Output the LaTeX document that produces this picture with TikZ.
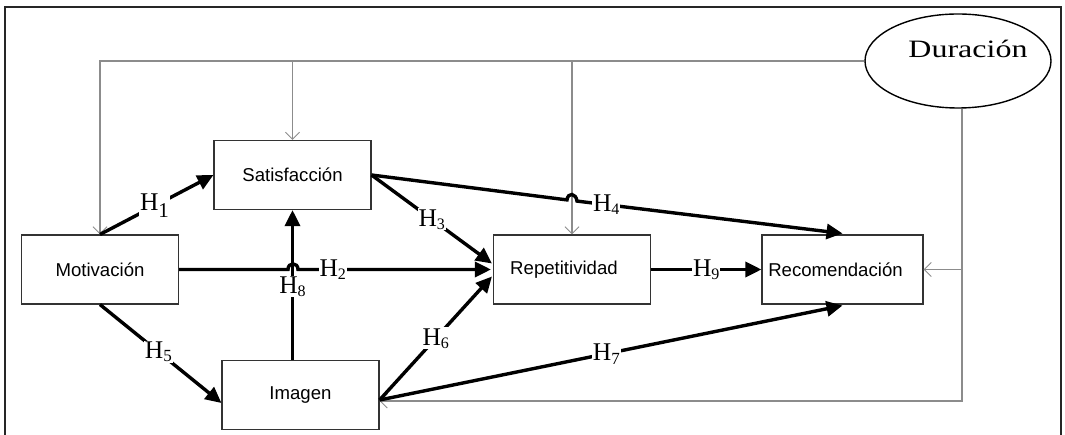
\documentclass[tikz,border=0pt]{standalone}
\usepackage{fontspec}
\setmainfont{Liberation Serif}
\newfontfamily\boxfont{Liberation Sans}
\usetikzlibrary{arrows.meta,shapes.geometric,calc}
\newcommand{\hyp}[3]{H\raisebox{-#3pt}{\fontsize{#2}{#2}\selectfont #1}}
\tikzset{
  var/.style={draw=black!80, line width=1.1pt, minimum width=157pt, minimum height=69pt, inner sep=0pt, font=\boxfont\fontsize{18.6}{20}\selectfont},
  hypo/.style={line width=3.4pt, -{Triangle[length=16pt,width=15pt]}},
  hlab/.style={fill=white, inner sep=1pt, font=\fontsize{25.5}{25.5}\selectfont},
  mod/.style={draw=black!45, line width=1.1pt},
  modarr/.style={mod, -{Straight Barb[length=7pt,width=14pt,line width=1pt]}},
}
\begin{document}
\begin{tikzpicture}[x=1pt,y=-1pt]
\useasboundingbox (0,0) rectangle (1065,435);
\draw[line width=1.5pt, black!85] (5,435) -- (5,7) -- (1061,7) -- (1061,435);

\node[var] (sat) at (292.5,175) {Satisfacción};
\node[var] (mot) at (100,269.5) {Motivación};
\node[var] (img) at (300.5,395) {Imagen};
\node[var] (rep) at (572,269.5) {\hspace*{-16pt}Repetitividad};
\node[var, minimum width=161pt] (rec) at (842.5,269.5) {\hspace*{-14pt}Recomendación};
\node[draw, ellipse, line width=1.4pt, minimum width=186pt, minimum height=94pt, inner sep=0pt,
  label={[xshift=10pt,yshift=12pt]center:\scalebox{1.28}[1]{\fontsize{25}{25}\selectfont Duración}}] (dur) at (958,61) {};

% moderating lines (Duración)
\coordinate (tl) at (mot.north |- dur.west);
\draw[modarr] (dur.west) -- (tl) -- (mot.north);
\coordinate (ts) at (sat.north |- dur.west);
\draw[modarr] (ts) -- (sat.north);
\coordinate (tr) at (rep.north |- dur.west);
\draw[modarr] (tr) -- (rep.north);
\coordinate (ds) at ($(dur.south)+(4,0)$);
\coordinate (ib) at ($(img.east)+(0,6)$);
\coordinate (rb) at (ds |- ib);
\draw[modarr] (ds) -- (rb) -- (ib);
\coordinate (rr) at (ds |- rec.east);
\draw[modarr] (rr) -- (rec.east);

% hypotheses
\draw[hypo] (mot.north) -- node[hlab, pos=0.48] {\hyp{1}{21}{7}} (sat.west);

\coordinate (b2a) at (288,269.5);
\coordinate (b2b) at (298,269.5);
\draw[hypo] (mot.east) -- (b2a) .. controls (288,262) and (298,262) .. (b2b) -- node[hlab, pos=0.18] {\hyp{2}{16}{3}} ($(rep.west)+(-2,0)$);

\draw[hypo] (sat.east) -- node[hlab, pos=0.5] {\hyp{3}{16}{3}} ($(rep.west)+(-1,-6)$);

\coordinate (b4a) at (567,199.9);
\coordinate (b4b) at (577,201.1);
\draw[hypo] (sat.east) -- (b4a) .. controls (568,192) and (576,193) .. (b4b) -- node[hlab, pos=0.11] {\hyp{4}{16}{3}} ($(rec.north)+(0,-1)$);

\draw[hypo] (mot.south) -- node[hlab, pos=0.48] {\hyp{5}{17}{3}} ($(img.west)+(0,8)$);

\coordinate (i6) at ($(img.east)+(0,5)$);
\draw[hypo] (i6) -- node[hlab, pos=0.5] {\hyp{6}{16}{3}} ($(rep.west)+(-1,7)$);
\draw[hypo] (i6) -- node[hlab, pos=0.49] {\hyp{7}{17}{4}} ($(rec.south)+(0,1)$);

\coordinate (i8) at (sat.south |- img.north);
\draw[hypo] (i8) -- node[hlab, pos=0.49] {\hyp{8}{16}{3}} (sat.south);

\draw[hypo] (rep.east) -- node[hlab, pos=0.5] {\hyp{9}{16}{3}} (rec.west);
\end{tikzpicture}
\end{document}
